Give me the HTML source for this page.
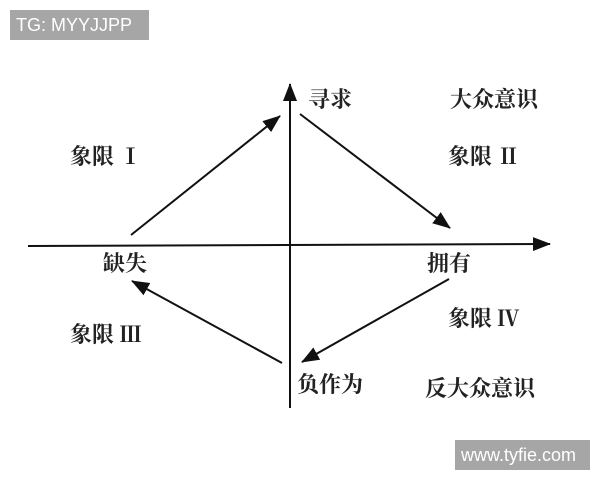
<!DOCTYPE html>
<html><head><meta charset="utf-8"><style>
body{margin:0;width:600px;height:480px;background:#fff;position:relative;overflow:hidden;font-family:"Liberation Sans","Noto Serif CJK SC","Noto Sans CJK SC",serif;}
.t{position:absolute;font-size:22px;color:#222;font-weight:bold;line-height:1;white-space:nowrap;font-family:"Liberation Serif","Noto Serif CJK SC",serif;}
.b{position:absolute;background:#a6a6a6;color:#fff;font-family:"Liberation Sans",sans-serif;font-size:18px;line-height:30px;padding-left:6px;}
</style></head><body>
<div class="b" style="left:10px;top:10px;width:133px;height:30px;">TG: MYYJJPP</div>
<div class="b" style="left:455px;top:440px;width:129px;height:30px;">www.tyfie.com</div>
<svg width="600" height="480" style="position:absolute;left:0;top:0">
<defs><marker id="b" markerWidth="18" markerHeight="14" refX="17" refY="7" orient="auto" markerUnits="userSpaceOnUse"><path d="M0,0 L18,7 L0,14z" fill="#111"/></marker></defs>
<g stroke="#111" stroke-width="2" fill="none">
<line x1="290" y1="408" x2="290" y2="84" marker-end="url(#b)"/>
<line x1="28" y1="246" x2="550" y2="244" marker-end="url(#b)"/>
<line x1="131" y1="235" x2="280" y2="116" marker-end="url(#b)"/>
<line x1="300" y1="114" x2="450" y2="228" marker-end="url(#b)"/>
<line x1="449" y1="279" x2="302" y2="362" marker-end="url(#b)"/>
<line x1="282" y1="363" x2="132" y2="281" marker-end="url(#b)"/>
</g></svg>
<div class="t" style="left:308px;top:89px">寻求</div>
<div class="t" style="left:450px;top:89px">大众意识</div>
<div class="t" style="left:70px;top:146px">象限 Ⅰ</div>
<div class="t" style="left:448px;top:146px">象限 Ⅱ</div>
<div class="t" style="left:103px;top:253px">缺失</div>
<div class="t" style="left:427px;top:253px">拥有</div>
<div class="t" style="left:70px;top:324px">象限 Ⅲ</div>
<div class="t" style="left:448px;top:308px">象限 Ⅳ</div>
<div class="t" style="left:297px;top:374px">负作为</div>
<div class="t" style="left:425px;top:378px">反大众意识</div>
</body></html>
